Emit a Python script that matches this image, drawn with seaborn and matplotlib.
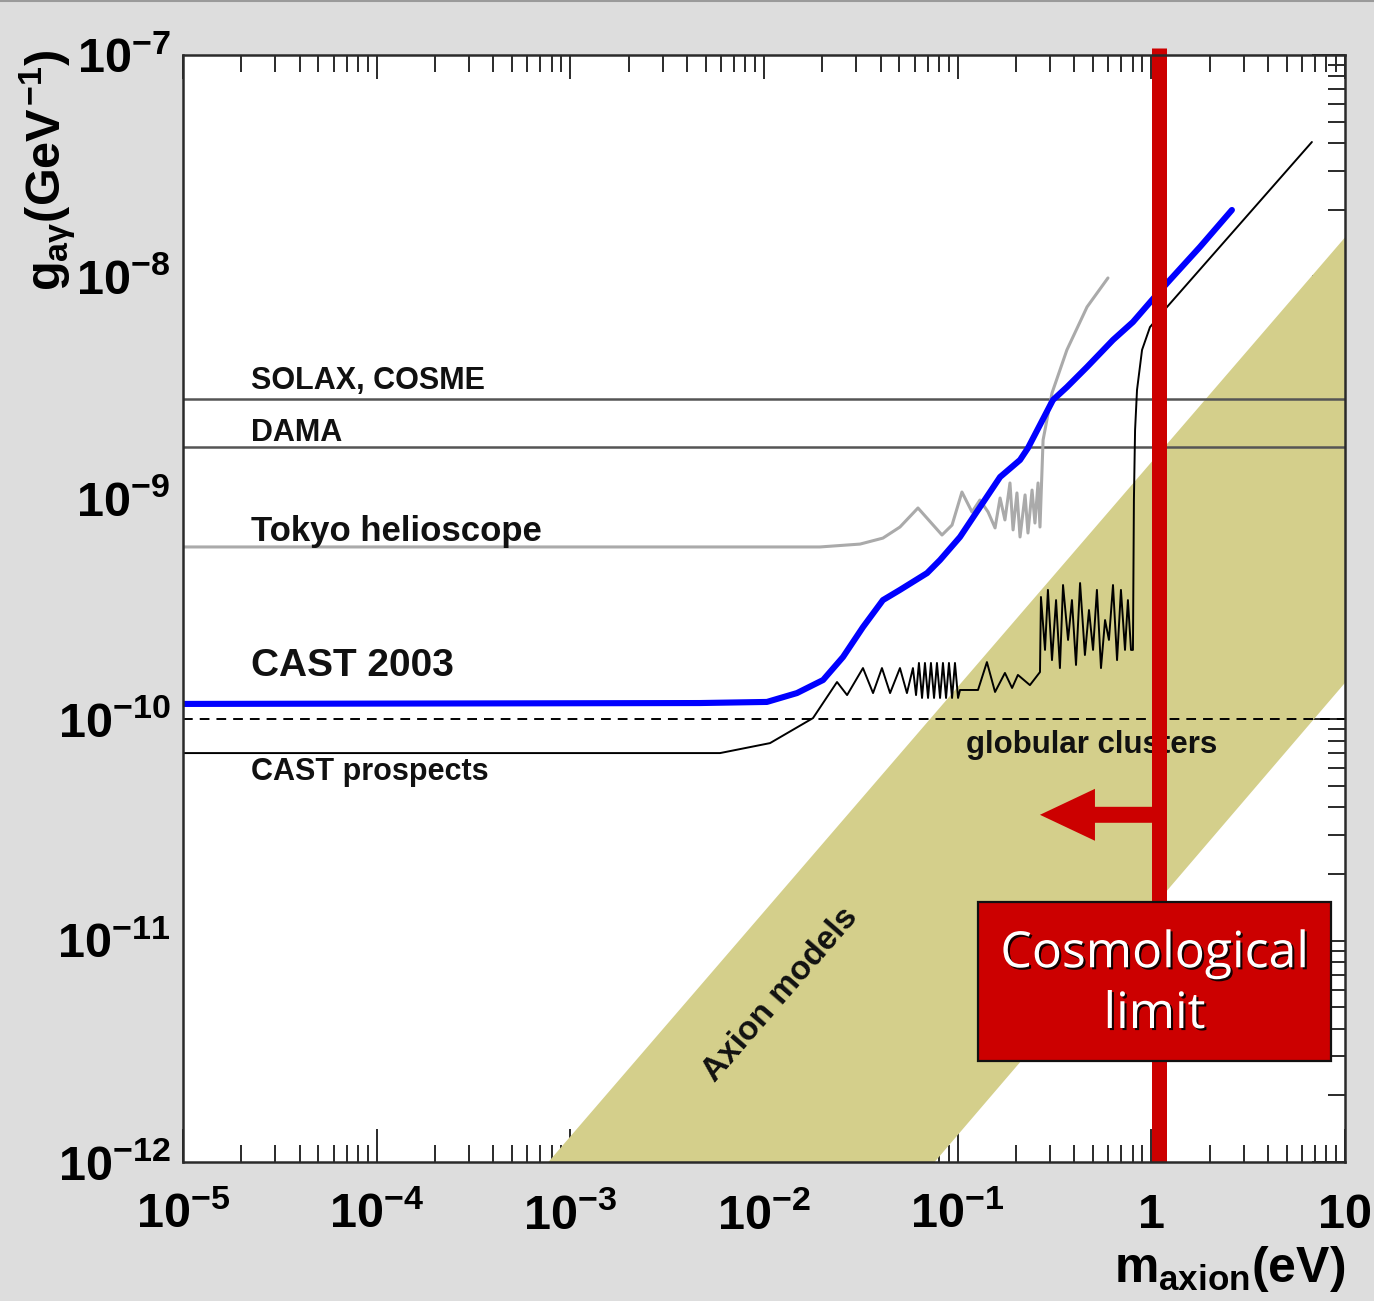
import numpy as np
import pandas as pd
import matplotlib
matplotlib.use("Agg")
import matplotlib.pyplot as plt
import matplotlib.patheffects as pe
from matplotlib.patches import Rectangle, FancyArrowPatch
from matplotlib.lines import Line2D
from matplotlib.ticker import LogLocator, FuncFormatter, NullFormatter
import seaborn as sns

# ---------------------------------------------------------------- data
# axion-photon coupling limits, stored as log10(m / eV) and log10(g / GeV^-1)
cast2003_logm = [-5.0, -2.331, -1.985, -1.830, -1.695, -1.592, -1.489, -1.386,
                 -1.298, -1.158, -1.091, -0.988, -0.885, -0.781, -0.678, -0.637,
                 -0.508, -0.436, -0.332, -0.198, -0.095, 0.003, 0.096, 0.251, 0.416]
cast2003_logg = [-9.931, -9.927, -9.922, -9.882, -9.823, -9.719, -9.584, -9.462,
                 -9.416, -9.340, -9.281, -9.177, -9.042, -8.906, -8.829, -8.775,
                 -8.558, -8.500, -8.409, -8.287, -8.206, -8.107, -8.016, -7.867, -7.700]

tokyo_logm = [-5.0, -1.711, -1.504, -1.386, -1.298, -1.205, -1.081, -1.029, -0.978,
              -0.926, -0.885, -0.843, -0.807, -0.781, -0.756, -0.730, -0.714, -0.694,
              -0.678, -0.652, -0.637, -0.616, -0.601, -0.585, -0.575, -0.559, -0.513,
              -0.436, -0.332, -0.224]
tokyo_logg = [-9.222, -9.222, -9.209, -9.182, -9.132, -9.046, -9.168, -9.123, -8.974,
              -9.064, -9.010, -9.064, -9.136, -9.001, -9.100, -8.933, -9.145, -8.978,
              -9.177, -8.987, -9.159, -8.965, -9.114, -8.933, -9.132, -8.739, -8.527,
              -8.332, -8.138, -8.007]

prospects_logm = [-5.0, -2.227, -1.969, -1.747, -1.623, -1.571, -1.489, -1.437, -1.391,
                  -1.349, -1.298, -1.262, -1.231, -1.215, -1.200, -1.184, -1.169, -1.153,
                  -1.138, -1.122, -1.107, -1.091, -1.076, -1.060, -1.045, -1.029, -1.014,
                  -0.998, -0.988, -0.895, -0.849, -0.807, -0.756, -0.719, -0.689, -0.627,
                  -0.575, -0.570, -0.549, -0.534, -0.513, -0.492, -0.472, -0.456, -0.430,
                  -0.410, -0.389, -0.368, -0.343, -0.322, -0.301, -0.281, -0.260, -0.239,
                  -0.219, -0.198, -0.177, -0.157, -0.136, -0.121, -0.105, -0.095, -0.090,
                  -0.084, -0.074, -0.048, -0.007, 0.081, 0.829]
prospects_logg = [-10.153, -10.153, -10.108, -9.995, -9.832, -9.891, -9.769, -9.882, -9.769,
                  -9.882, -9.769, -9.882, -9.769, -9.891, -9.746, -9.904, -9.746, -9.904,
                  -9.746, -9.904, -9.746, -9.904, -9.746, -9.904, -9.746, -9.904, -9.746,
                  -9.904, -9.868, -9.868, -9.742, -9.877, -9.791, -9.859, -9.800, -9.846,
                  -9.787, -9.448, -9.687, -9.416, -9.733, -9.462, -9.769, -9.394, -9.642,
                  -9.462, -9.755, -9.385, -9.710, -9.507, -9.687, -9.416, -9.769, -9.552,
                  -9.642, -9.394, -9.733, -9.416, -9.687, -9.462, -9.687, -9.687, -9.010,
                  -8.694, -8.513, -8.332, -8.229, -8.138, -7.393]

# constant limits (GeV^-1)
solax_cosme_g = 2.8e-9
dama_g = 1.7e-9
globular_g = 1.0e-10

# axion-model band corners (m in eV, g in GeV^-1)
band_m = [7.7e-4, 10.0, 10.0, 7.6e-2]
band_g = [1.0e-12, 1.5e-8, 1.46e-10, 1.0e-12]

# cosmological hot-dark-matter bound on the axion mass (eV)
cosmo_limit_m = 1.1
arrow_tip_m = 0.266
arrow_g = 3.7e-11

x_ticks = [1e-5, 1e-4, 1e-3, 1e-2, 1e-1, 1.0, 10.0]
y_ticks = [1e-12, 1e-11, 1e-10, 1e-9, 1e-8, 1e-7]

# ---------------------------------------------------------------- style
sns.set_theme(style="white")
plt.rcParams["font.family"] = ["Liberation Sans", "DejaVu Sans"]
plt.rcParams["font.weight"] = "bold"
plt.rcParams["text.color"] = "black"
plt.rcParams["axes.labelcolor"] = "black"
plt.rcParams["xtick.color"] = "black"
plt.rcParams["ytick.color"] = "black"
plt.rcParams["mathtext.fontset"] = "custom"
for key in ("rm", "it", "bf", "sf"):
    plt.rcParams["mathtext." + key] = "Liberation Sans:bold"

frame_col = "#2a2a2a"

fig = plt.figure(figsize=(13.74, 13.01), dpi=100, facecolor="#dddddd")
ax = fig.add_axes([0.13319, 0.10684, 0.84571, 0.85088])
ax.set_facecolor("white")
ax.set_xscale("log")
ax.set_yscale("log")
ax.set_xlim(1e-5, 10)
ax.set_ylim(1e-12, 1e-7)


def to_frame(logm, logg):
    return pd.DataFrame({"m": np.power(10.0, logm), "g": np.power(10.0, logg)})


# axion models band
ax.fill(band_m, band_g, color="#d4cf8b", lw=0, zorder=1)

# flat experimental limits
ax.axhline(solax_cosme_g, color="#555555", lw=1.8, zorder=2)
ax.axhline(dama_g, color="#555555", lw=1.8, zorder=2)
ax.axhline(globular_g, color="black", lw=1.4, dashes=(5, 3.6), zorder=2)

# helioscope curves
sns.lineplot(data=to_frame(tokyo_logm, tokyo_logg), x="m", y="g", sort=False,
             estimator=None, color="#aaaaaa", lw=2.2, ax=ax, zorder=3)
sns.lineplot(data=to_frame(prospects_logm, prospects_logg), x="m", y="g", sort=False,
             estimator=None, color="black", lw=1.4, ax=ax, zorder=3)
sns.lineplot(data=to_frame(cast2003_logm, cast2003_logg), x="m", y="g", sort=False,
             estimator=None, color="#0000ff", lw=4.4, ax=ax, zorder=4)

# curve labels
lab = dict(transform=ax.transAxes, ha="left", va="baseline", fontweight="bold",
           color="#111111", zorder=6)
ax.text(0.0585, 0.6983, "SOLAX, COSME", fontsize=22, **lab)
ax.text(0.0585, 0.6513, "DAMA", fontsize=22, **lab)
ax.text(0.0585, 0.5610, "Tokyo helioscope", fontsize=25, **lab)
ax.text(0.0585, 0.4390, "CAST 2003", fontsize=28, **lab)
ax.text(0.0585, 0.3450, "CAST prospects", fontsize=22, **lab)
ax.text(0.6738, 0.3695, "globular clusters", fontsize=22.5, **lab)
ax.text(1.21e-2, 5.67e-12, "Axion models", fontsize=24, fontweight="bold",
        color="#111111", rotation=49, rotation_mode="anchor",
        ha="center", va="center", zorder=6)

# cosmological limit line, arrow and box
red = "#cc0000"
ax.axvline(cosmo_limit_m, ymin=0, ymax=1.0065, color=red, lw=10.8,
           solid_capstyle="butt", clip_on=False, zorder=7)
arrow = FancyArrowPatch((cosmo_limit_m, arrow_g), (arrow_tip_m, arrow_g),
                        arrowstyle="simple,head_length=39.6,head_width=37.4,tail_width=11.5",
                        mutation_scale=1, shrinkA=0, shrinkB=0, color=red, lw=0,
                        zorder=7)
ax.add_patch(arrow)
ax.add_patch(Rectangle((0.6842, 0.0912), 0.3038, 0.1436, transform=ax.transAxes,
                       facecolor=red, edgecolor="#111111", lw=1.6, zorder=8,
                       clip_on=False))
ax.text(0.8360, 0.1600, "Cosmological\nlimit", transform=ax.transAxes,
        ha="center", va="center", fontsize=36, fontweight="normal",
        family=["Open Sans", "DejaVu Sans"], color="white", linespacing=1.3,
        zorder=9,
        path_effects=[pe.withSimplePatchShadow(offset=(1.5, -1.5),
                                               shadow_rgbFace="black", alpha=0.9)])

# ---------------------------------------------------------------- axes
def decade_label(v, pos):
    e = int(round(np.log10(v)))
    if e == 0:
        return "1"
    if e == 1:
        return "10"
    return r"$10^{%d}$" % e


for axis in (ax.xaxis, ax.yaxis):
    axis.set_major_locator(LogLocator(base=10, numticks=20))
    axis.set_minor_locator(LogLocator(base=10, subs=np.arange(2, 10), numticks=20))
    axis.set_major_formatter(FuncFormatter(decade_label))
    axis.set_minor_formatter(NullFormatter())
ax.set_xticks(x_ticks)
ax.set_yticks(y_ticks)
ax.set_xlim(1e-5, 10)
ax.set_ylim(1e-12, 1e-7)

# bottom, left and right: long inward ticks
ax.tick_params(which="both", direction="in", top=False, right=True,
               color=frame_col, width=1.4)
ax.tick_params(which="major", length=24)
ax.tick_params(which="minor", length=12)
ax.tick_params(axis="x", which="major", labelsize=35, pad=22)
ax.tick_params(axis="y", which="major", labelsize=35, pad=9)

for s in ax.spines.values():
    s.set_visible(True)
    s.set_color(frame_col)
    s.set_linewidth(1.8)
    s.set_zorder(10)

# top edge: shorter inward ticks, no labels
top = ax.twiny()
top.set_xscale("log")
top.set_xlim(ax.get_xlim())
top.xaxis.set_major_locator(LogLocator(base=10, numticks=20))
top.xaxis.set_minor_locator(LogLocator(base=10, subs=np.arange(2, 10), numticks=20))
top.xaxis.set_major_formatter(NullFormatter())
top.xaxis.set_minor_formatter(NullFormatter())
top.tick_params(which="both", direction="in", color=frame_col, width=1.4,
                top=True, bottom=False, labeltop=False, labelbottom=False)
top.tick_params(which="major", length=17)
top.tick_params(which="minor", length=12)
for s in top.spines.values():
    s.set_visible(False)

ax.set_xlabel(r"$m_{axion}(eV)$", fontsize=36, loc="right")
ax.xaxis.set_label_coords(1.0, -0.074)
ax.set_ylabel(r"$g_{a\gamma}(GeV^{-1})$", fontsize=35, loc="top")
ax.yaxis.set_label_coords(-0.090, 1.005)

fig.add_artist(Line2D([0, 1], [0.9992, 0.9992], color="#9a9a9a", lw=1.5))

fig.savefig("out.png", dpi=100, facecolor=fig.get_facecolor())
